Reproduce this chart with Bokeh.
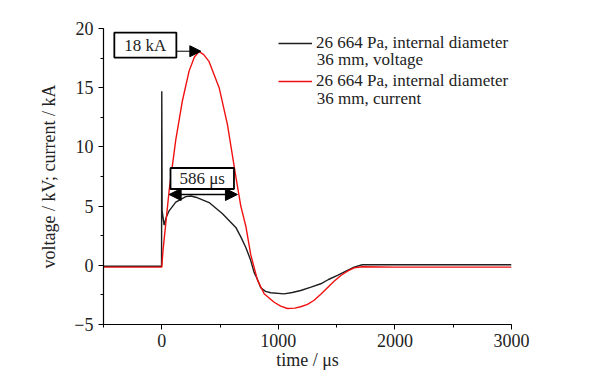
from bokeh.plotting import figure
from bokeh.models import (Range1d, SingleIntervalTicker, Label, Arrow, NormalHead,
                          Legend, LegendItem)
from bokeh.embed import file_html
from bokeh.resources import INLINE

# ---- data ----
volt_t = [-500, -300, -100, -2, 0, 3, 20, 40, 63, 120, 206, 250, 292, 406, 521, 635,
          678, 721, 760, 792, 821, 849, 890, 935, 1049, 1120, 1192, 1280, 1364, 1430,
          1507, 1580, 1650, 1720, 2000, 2500, 3000]
volt_v = [-0.08, -0.08, -0.08, -0.08, 14.7, 4.6, 3.4, 4.1, 4.6, 5.33, 5.8, 5.85, 5.75,
          5.3, 4.35, 3.2, 2.4, 1.5, 0.5, -0.6, -1.2, -1.9, -2.2, -2.32, -2.41, -2.3,
          -2.13, -1.85, -1.56, -1.2, -0.86, -0.5, -0.16, 0.05, 0.06, 0.05, 0.05]

curr_t = [-500, -300, -100, 0, 10, 63, 120, 177, 234, 280, 320, 360, 406, 492, 563, 635,
          678, 721, 763, 821, 878, 964, 1020, 1078, 1140, 1192, 1250, 1307, 1364, 1421,
          1478, 1536, 1593, 1650, 1720, 2000, 2500, 3000]
curr_v = [-0.15, -0.15, -0.15, -0.15, 1.2, 6.3, 10.6, 13.9, 16.4, 17.6, 18.05, 17.8,
          17.2, 15.0, 11.9, 7.5, 5.0, 3.3, 0.9, -1.25, -2.4, -3.12, -3.45, -3.65, -3.62,
          -3.5, -3.3, -2.95, -2.45, -1.9, -1.35, -0.86, -0.5, -0.22, -0.12, -0.15,
          -0.15, -0.15]

series_labels = ["26 664 Pa, internal diameter", "26 664 Pa, internal diameter"]
series_second = ["36 mm, voltage", "36 mm, current"]

peak_text = "18 kA"
peak_box = (-141, 18.6)
peak_arrow = (129, 335, 18.08)

width_text = "586 \u03bcs"
width_box = (347, 7.33)
width_start = 63
width_len = 586
width_y = 5.98

FONT = "Liberation Serif"

p = figure(width=593, height=375, x_range=Range1d(-500, 3000), y_range=Range1d(-5, 20),
           output_backend="svg", toolbar_location=None,
           min_border_left=103, min_border_right=82, min_border_top=28,
           min_border_bottom=51)
p.outline_line_color = None
p.xgrid.visible = False
p.ygrid.visible = False
p.background_fill_color = "white"
p.border_fill_color = "white"

rv = p.line(volt_t, volt_v, line_color="#1e1e1e", line_width=1.4)
rc = p.line(curr_t, curr_v, line_color="#f01010", line_width=1.4)

# axes
p.xaxis.ticker = SingleIntervalTicker(interval=1000, num_minor_ticks=2)
p.yaxis.ticker = SingleIntervalTicker(interval=5, num_minor_ticks=2)
p.yaxis.major_label_overrides = {-5: "\u22125"}
for ax in (p.xaxis[0], p.yaxis[0]):
    ax.axis_line_color = "black"
    ax.axis_line_width = 1.2
    ax.major_tick_line_color = "black"
    ax.minor_tick_line_color = "black"
    ax.major_tick_in = 0
    ax.major_tick_out = 5
    ax.minor_tick_in = 0
    ax.minor_tick_out = 3
    ax.major_label_text_font = FONT
    ax.major_label_text_font_size = "18px"
    ax.major_label_text_color = "#222222"
    ax.axis_label_text_font = FONT
    ax.axis_label_text_font_size = "18px"
    ax.axis_label_text_font_style = "normal"
    ax.axis_label_text_color = "#222222"
p.xaxis.axis_label = "time / \u03bcs"
p.yaxis.axis_label = "voltage / kV; current / kA"
p.xaxis.major_label_standoff = 4
p.xaxis.axis_label_standoff = 0
p.yaxis.major_label_standoff = 5
p.yaxis.axis_label_standoff = 12

# annotation boxes and arrows (padding order: left, right, top, bottom)
p.add_layout(Label(x=peak_box[0], y=peak_box[1], text=peak_text, text_align="center",
                   text_baseline="middle", text_font=FONT, text_font_size="17px",
                   text_color="#222222", border_line_color="black", border_line_width=1.8,
                   background_fill_color="white", padding=(10, 10, 3, 3)))
p.add_layout(Arrow(end=NormalHead(size=11, fill_color="black", line_color="black"),
                   x_start=peak_arrow[0], x_end=peak_arrow[1], y_start=peak_arrow[2],
                   y_end=peak_arrow[2], line_color="black", line_width=1))
p.add_layout(Label(x=width_box[0], y=width_box[1], text=width_text, text_align="center",
                   text_baseline="middle", text_font=FONT, text_font_size="17px",
                   text_color="#222222", border_line_color="black", border_line_width=1.8,
                   background_fill_color="white", padding=(9, 9, 1, 1)))
p.add_layout(Arrow(start=NormalHead(size=12, fill_color="black", line_color="black"),
                   end=NormalHead(size=12, fill_color="black", line_color="black"),
                   x_start=width_start, x_end=width_start + width_len, y_start=width_y,
                   y_end=width_y, line_color="black", line_width=1.5))

# legend
legend = Legend(items=[LegendItem(label=series_labels[0], renderers=[rv]),
                       LegendItem(label=series_labels[1], renderers=[rc])],
                location=(175, 233), label_text_font=FONT, label_text_font_size="17px",
                label_text_color="#222222", glyph_width=34, glyph_height=20,
                label_height=20, label_standoff=4, spacing=18, padding=0, margin=0,
                border_line_alpha=0, background_fill_alpha=0)
p.add_layout(legend)
p.add_layout(Label(x=1330, y=17.34, text=series_second[0], text_baseline="middle",
                   text_font=FONT, text_font_size="17px", text_color="#222222"))
p.add_layout(Label(x=1330, y=14.13, text=series_second[1], text_baseline="middle",
                   text_font=FONT, text_font_size="17px", text_color="#222222"))

open("out.html", "w").write(file_html(p, INLINE))
